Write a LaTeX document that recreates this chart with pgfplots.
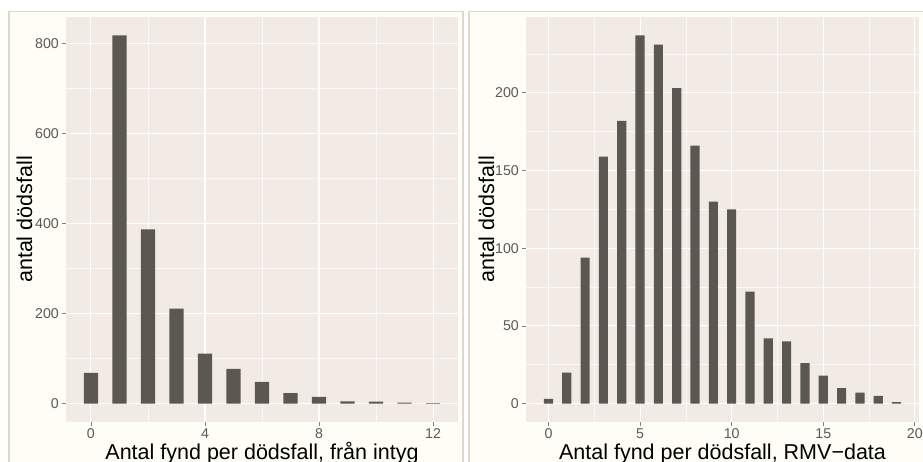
\documentclass[border=0pt]{standalone}
\usepackage{fontspec}
\setmainfont{Liberation Sans}
\usepackage{pgfplots}
\pgfplotsset{compat=1.18}
\definecolor{barc}{HTML}{5B5852}
\definecolor{panel}{HTML}{F2EAE5}
\definecolor{cream}{HTML}{FEFDF6}
\definecolor{framec}{HTML}{DDD9CE}
\definecolor{ticklab}{HTML}{5A5A5A}
\pgfplotsset{
 hist/.style={
  scale only axis, height=405pt,
  axis background/.style={fill=panel},
  axis line style={draw=none},
  tick align=outside, tick pos=left,
  major tick length=4.5pt, minor tick length=0pt,
  major tick style={gray, line width=0.8pt},
  grid=both,
  major grid style={white, line width=1.1pt},
  minor grid style={white, line width=0.6pt, opacity=0.7},
  ticklabel style={font=\fontsize{14.2}{17}\selectfont, text=ticklab},
  xticklabel style={inner sep=2pt},
  yticklabel style={inner sep=2.5pt},
  /pgf/number format/assume math mode=true,
  label style={font=\fontsize{21.5}{25}\selectfont, text=black},
  ybar, bar width=0.5,
 }
}
\begin{document}
\begin{tikzpicture}
\useasboundingbox (0,0) rectangle (923pt,462pt);
\clip (0,0) rectangle (923pt,462pt);
\fill[white] (0,0) rectangle (923pt,462pt);
\filldraw[fill=cream, draw=framec, line width=1.5pt] (8.75pt,-5pt) rectangle (462.75pt,450.25pt);
\filldraw[fill=cream, draw=framec, line width=1.5pt] (468.75pt,-5pt) rectangle (935pt,450.25pt);
\begin{axis}[hist, at={(66pt,40pt)}, anchor=south west, width=392pt,
  xmin=-0.875, xmax=12.875, ymin=-41, ymax=859,
  xtick={0,4,8,12}, minor xtick={2,6,10},
  ytick={0,200,400,600,800}, minor ytick={100,300,500,700},
  xlabel={Antal fynd per dödsfall, från intyg},
  ylabel={antal dödsfall},
  xlabel style={at={(axis description cs:0.5,-0.0914)}, anchor=base},
  ylabel style={at={(axis description cs:-0.0867,0.5)}, anchor=base},
]
\addplot[fill=barc, draw=none] coordinates {(0,68) (1,818) (2,387) (3,211) (4,111) (5,77) (6,48) (7,23) (8,15) (9,5) (10,4) (11,2) (12,1)};
\end{axis}
\begin{axis}[hist, at={(526pt,40pt)}, anchor=south west, width=393pt,
  xmin=-1.225, xmax=20.225, ymin=-11.85, ymax=248.85,
  xtick={0,5,10,15,20}, minor xtick={2.5,7.5,12.5,17.5},
  ytick={0,50,100,150,200}, minor ytick={25,75,125,175,225},
  xlabel={Antal fynd per dödsfall, RMV−data},
  ylabel={antal dödsfall},
  xlabel style={at={(axis description cs:0.5,-0.0914)}, anchor=base},
  ylabel style={at={(axis description cs:-0.0814,0.5)}, anchor=base},
]
\addplot[fill=barc, draw=none] coordinates {(0,3) (1,20) (2,94) (3,159) (4,182) (5,237) (6,231) (7,203) (8,166) (9,130) (10,125) (11,72) (12,42) (13,40) (14,26) (15,18) (16,10) (17,7) (18,5) (19,1)};
\end{axis}
\end{tikzpicture}
\end{document}
